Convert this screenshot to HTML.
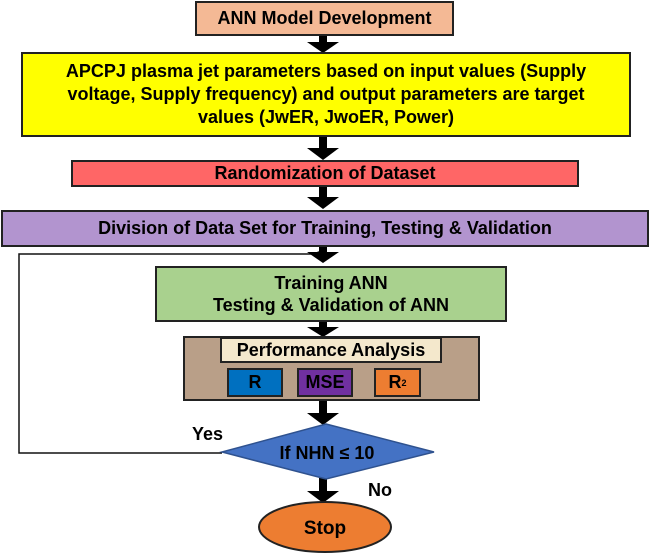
<!DOCTYPE html>
<html><head><style>
body{margin:0;width:650px;height:553px;background:#fff;position:relative;overflow:hidden;font-family:"Liberation Sans",sans-serif;font-weight:bold;color:#000}
.b{position:absolute;box-sizing:border-box;border:2px solid #222;display:flex;align-items:center;justify-content:center;text-align:center;white-space:nowrap}
.t{position:absolute;font-size:18px}
</style></head><body>
<svg width="650" height="553" style="position:absolute;left:0;top:0">
<defs><marker id="m" markerWidth="8" markerHeight="8" refX="7" refY="4" orient="auto"><path d="M0,1 L8,4 L0,7z" fill="#000"/></marker></defs>
<polyline points="313,254 19,254 19,453 222,453" fill="none" stroke="#111" stroke-width="1.5" marker-start="url(#m)"/>
<g fill="#000">
<path d="M319,34h8v8h12l-16,11l-16,-11h12z"/>
<path d="M319,136h8v12h12l-16,12l-16,-12h12z"/>
<path d="M319,186h8v11h12l-16,12l-16,-12h12z"/>
<path d="M319,246h8v6h12l-16,11l-16,-11h12z"/>
<path d="M319,321h8v6h12l-16,10l-16,-10h12z"/>
<path d="M319,400h8v13h12l-16,12l-16,-12h12z"/>
<path d="M319,478h8v13h12l-16,12l-16,-12h12z"/>
</g>
<polygon points="326,424 434,452 326,479 222,452" fill="#4472c4" stroke="#2f528f" stroke-width="1.5"/>
<ellipse cx="325" cy="527" rx="66" ry="25" fill="#ed7d31" stroke="#222" stroke-width="2"/>
<text x="327" y="459" text-anchor="middle" font-size="18" font-family="Liberation Sans" fill="#000">If NHN ≤ 10</text>
<text x="325" y="534" text-anchor="middle" font-size="19" font-weight="bold" font-family="Liberation Sans" fill="#000">Stop</text>
</svg>
<div class="b" style="left:195px;top:1px;width:259px;height:35px;background:#f4b995;font-size:18px">ANN Model Development</div>
<div class="b" style="left:21px;top:52px;width:610px;height:85px;background:#ffff00;font-size:18px;line-height:23px;padding:0 20px;white-space:normal">APCPJ plasma jet parameters based on input values (Supply voltage, Supply frequency) and output parameters are target values (JwER, JwoER, Power)</div>
<div class="b" style="left:71px;top:160px;width:508px;height:27px;background:#ff6666;font-size:18px">Randomization of Dataset</div>
<div class="b" style="left:1px;top:210px;width:648px;height:37px;background:#b294cf;font-size:18px">Division of Data Set for Training, Testing &amp; Validation</div>
<div class="b" style="left:155px;top:266px;width:352px;height:56px;background:#a9d18e;font-size:18px;line-height:22px">Training ANN<br>Testing &amp; Validation of ANN</div>
<div class="b" style="left:183px;top:336px;width:297px;height:65px;background:#b99f88"></div>
<div class="b" style="left:220px;top:337px;width:222px;height:26px;background:#f4e8cc;font-size:18px">Performance Analysis</div>
<div class="b" style="left:227px;top:368px;width:56px;height:29px;background:#0070c0;font-size:18px">R</div>
<div class="b" style="left:297px;top:368px;width:56px;height:29px;background:#7030a0;font-size:18px">MSE</div>
<div class="b" style="left:374px;top:368px;width:47px;height:29px;background:#ed7d31;font-size:18px">R<sup style="font-size:9px">2</sup></div>
<div class="t" style="left:192px;top:424px">Yes</div>
<div class="t" style="left:368px;top:480px">No</div>
</body></html>
